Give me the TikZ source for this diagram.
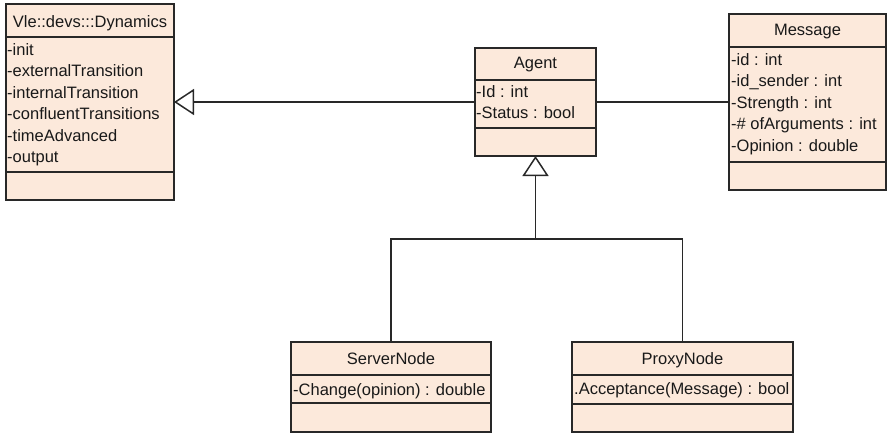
\documentclass[tikz,border=0pt]{standalone}
\usepackage{fontspec}
\setmainfont{Liberation Sans}
\usetikzlibrary{arrows.meta}

\definecolor{boxfill}{RGB}{252,233,219}
\definecolor{linecol}{RGB}{40,40,40}
\definecolor{textcol}{RGB}{25,25,25}
\newcommand{\umlfont}{\fontsize{16.5}{19}\selectfont}

\tikzset{
  classbox/.style={draw=linecol, fill=boxfill, line width=1.5pt, rectangle,
    inner sep=0pt, outer sep=0pt, anchor=north west},
  divider/.style={draw=linecol, line width=1.5pt},
  title/.style={anchor=base, inner sep=0pt, font=\umlfont, text=textcol},
  member/.style={anchor=base west, inner sep=0pt, font=\umlfont, text=textcol},
  link/.style={draw=linecol, line width=1.5pt},
  generalize/.style={link, -{Triangle[open, length=20pt, width=26pt, line width=1.5pt]}}
}

\begin{document}
\begin{tikzpicture}[x=1pt, y=-1pt]
  \useasboundingbox (0,0) rectangle (888,434);

  % ---- Vle::devs:::Dynamics ----
  \node[classbox, minimum width=168pt, minimum height=196pt] (dyn) at (6,4) {};
  \draw[divider] (dyn.west |- 0,37) -- (dyn.east |- 0,37);
  \draw[divider] (dyn.west |- 0,172) -- (dyn.east |- 0,172);
  \node[title] (dynname) at (dyn.north |- 0,27) {Vle::devs:::Dynamics};
  \node[member] (dyn1) at (7,55) {-init};
  \node[member] (dyn2) at (7,76.5) {-externalTransition};
  \node[member] (dyn3) at (7,98) {-internalTransition};
  \node[member] (dyn4) at (7,119.5) {-confluentTransitions};
  \node[member] (dyn5) at (7,141) {-timeAdvanced};
  \node[member] (dyn6) at (7,162.5) {-output};

  % ---- Agent ----
  \node[classbox, minimum width=121pt, minimum height=108pt] (agent) at (475,48) {};
  \draw[divider] (agent.west |- 0,80) -- (agent.east |- 0,80);
  \draw[divider] (agent.west |- 0,128) -- (agent.east |- 0,128);
  \node[title] (agentname) at (agent.north |- 0,68) {Agent};
  \node[member] (agent1) at (476,97) {-Id : int};
  \node[member] (agent2) at (476,118) {-Status : bool};

  % ---- Message ----
  \node[classbox, minimum width=157pt, minimum height=176pt] (msg) at (729,14) {};
  \draw[divider] (msg.west |- 0,47) -- (msg.east |- 0,47);
  \draw[divider] (msg.west |- 0,162) -- (msg.east |- 0,162);
  \node[title] (msgname) at (msg.north |- 0,35) {Message};
  \node[member] (msg1) at (731,65) {-id : int};
  \node[member] (msg2) at (731,86.5) {-id\_sender : int};
  \node[member] (msg3) at (731,108) {-Strength : int};
  \node[member] (msg4) at (731,129.5) {-\# ofArguments : int};
  \node[member] (msg5) at (731,151) {-Opinion : double};

  % ---- ServerNode ----
  \node[classbox, minimum width=200pt, minimum height=90pt] (server) at (291,342) {};
  \draw[divider] (server.west |- 0,375) -- (server.east |- 0,375);
  \draw[divider] (server.west |- 0,403) -- (server.east |- 0,403);
  \node[title] (servername) at (server.north |- 0,364) {ServerNode};
  \node[member] (server1) at (293,395) {-Change(opinion) : double};

  % ---- ProxyNode ----
  \node[classbox, minimum width=221pt, minimum height=90pt] (proxy) at (572,342) {};
  \draw[divider] (proxy.west |- 0,375) -- (proxy.east |- 0,375);
  \draw[divider] (proxy.west |- 0,404) -- (proxy.east |- 0,404);
  \node[title] (proxyname) at (proxy.north |- 0,364) {ProxyNode};
  \node[member] (proxy1) at (574,394) {.Acceptance(Message) : bool};

  % ---- relations ----
  \draw[generalize] (agent.west) -- (dyn.east);
  \draw[link] (agent.east) -- (msg.west);
  \coordinate (fork) at (agent.south |- 0,239);
  \draw[link] (server.north) |- (fork) -| (proxy.north);
  \draw[generalize] (fork) -- (agent.south);
\end{tikzpicture}
\end{document}
